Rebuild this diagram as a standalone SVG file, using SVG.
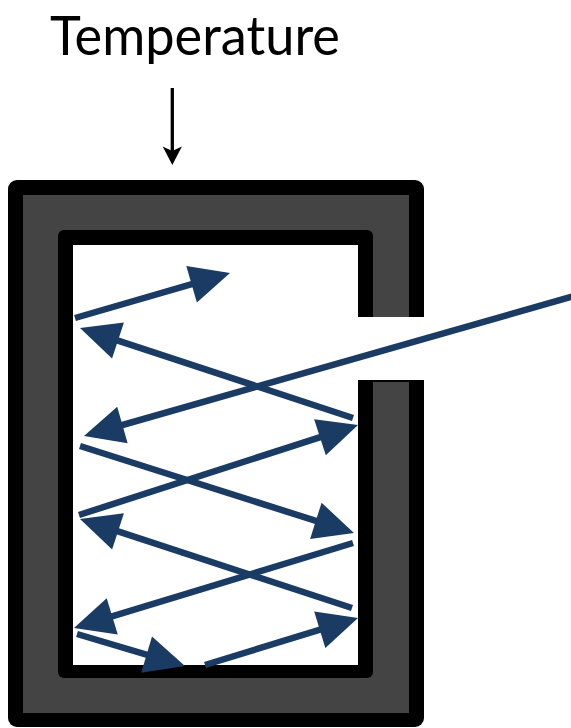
<svg xmlns="http://www.w3.org/2000/svg" width="571" height="728" viewBox="0 0 571 728">
  <defs>
    <style>
      .ray { stroke: #1a3b64; stroke-width: 6.5; fill: none; marker-end: url(#ah); }
      .label { font-family: "Lato", "Liberation Sans", sans-serif; font-size: 55px; fill: #000; }
    </style>
    <marker id="ah" markerUnits="userSpaceOnUse" markerWidth="42" markerHeight="40" refX="20" refY="19" orient="auto" overflow="visible">
      <path d="M0,0 L40,19 L0,38 Z" fill="#1a3b64"/>
    </marker>
  </defs>
  <rect width="571" height="728" fill="#fff"/>

  <g id="label">
    <text class="label" x="50" y="55" textLength="290" lengthAdjust="spacingAndGlyphs">Temperature</text>
  </g>
  <g id="temp-arrow">
    <line x1="172.3" y1="88" x2="172.3" y2="152" stroke="#000" stroke-width="3.3"/>
    <path d="M172.3,165 L162.7,146.5 L172.3,151 L181.9,146.5 Z" fill="#000"/>
  </g>

  <g id="chamber">
    <rect x="8" y="180" width="416" height="547" rx="9" fill="#000"/>
    <rect x="23" y="195" width="386" height="518" fill="#444"/>
    <rect x="58" y="230" width="315" height="448" rx="6" fill="#000"/>
    <rect x="73" y="245" width="285" height="420" fill="#fff"/>
    <rect x="356" y="317" width="72" height="63" fill="#fff"/>
    <rect x="358" y="380" width="66" height="2" fill="#000"/>
  </g>

  <g id="rays">
    <line class="ray" x1="580" y1="294.4" x2="103.2" y2="430.5"/>
    <line class="ray" x1="80" y1="446" x2="334.9" y2="526.9"/>
    <line class="ray" x1="79" y1="515" x2="339.0" y2="431.1"/>
    <line class="ray" x1="353" y1="418" x2="99.0" y2="334.3"/>
    <line class="ray" x1="75" y1="318" x2="210.8" y2="278.6"/>
    <line class="ray" x1="353" y1="543" x2="93.1" y2="622.2"/>
    <line class="ray" x1="352" y1="608" x2="99.0" y2="525.2"/>
    <line class="ray" x1="77" y1="634" x2="165.8" y2="660.3"/>
    <line class="ray" x1="205" y1="665" x2="338.9" y2="623.9"/>
  </g>
</svg>
